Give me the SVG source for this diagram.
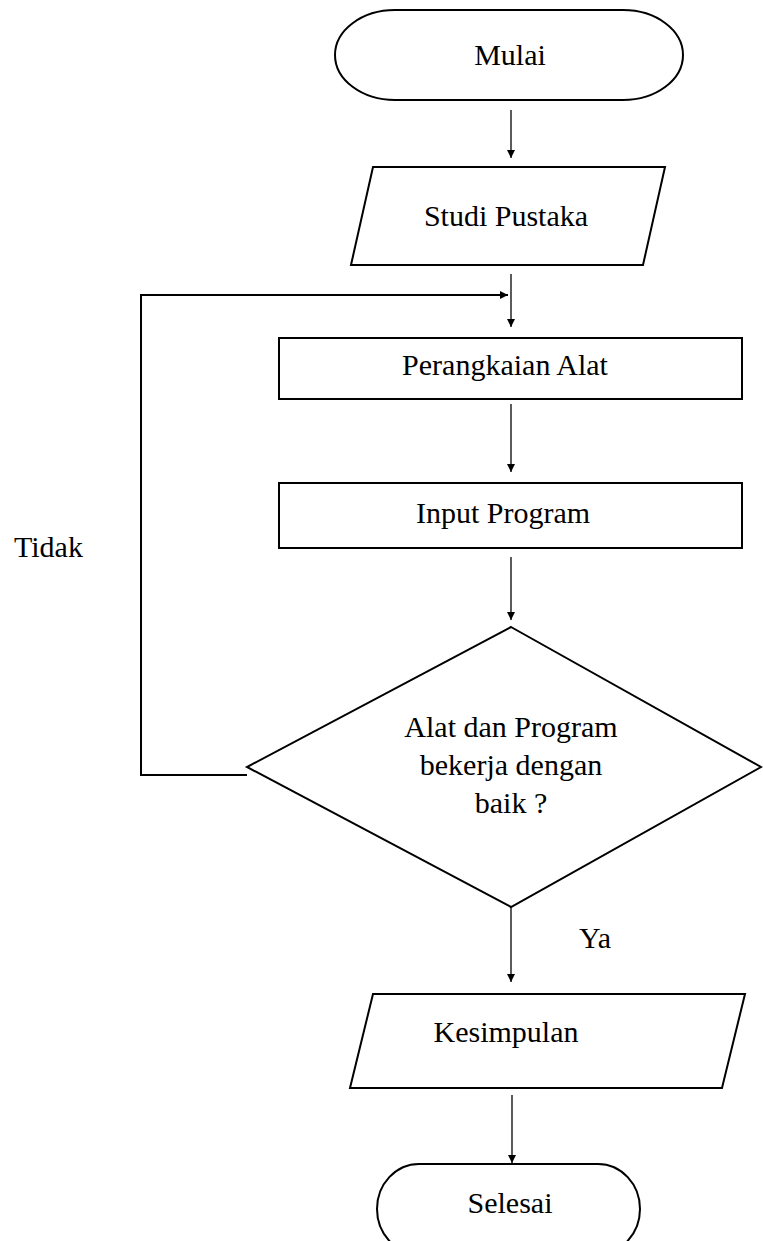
<svg xmlns="http://www.w3.org/2000/svg" width="763" height="1241" viewBox="0 0 763 1241">
<style>
.shape{fill:#fff;stroke:#000;stroke-width:2}
.conn{fill:none;stroke:#333;stroke-width:1.6}
.t{font-size:30px;fill:#000;text-anchor:middle}
.tl{font-size:30px;fill:#000}
</style>
<defs>
<marker id="ah" markerWidth="10" markerHeight="10" refX="8" refY="5" orient="auto" markerUnits="userSpaceOnUse">
<path d="M0,1 L8,5 L0,9 Z" fill="#000"/>
</marker>
</defs>
<rect width="763" height="1241" fill="#fff"/>
<g id="connectors">
<line class="conn" x1="511" y1="110" x2="511" y2="158" marker-end="url(#ah)"/>
<line class="conn" x1="511" y1="274" x2="511" y2="327" marker-end="url(#ah)"/>
<line class="conn" x1="511" y1="404" x2="511" y2="472" marker-end="url(#ah)"/>
<line class="conn" x1="511" y1="557" x2="511" y2="620" marker-end="url(#ah)"/>
<polyline points="247,775 141,775 141,295 508,295" fill="none" stroke="#000" stroke-width="2" marker-end="url(#ah)"/>
<line class="conn" x1="511" y1="907" x2="511" y2="982" marker-end="url(#ah)"/>
<line class="conn" x1="512" y1="1095" x2="512" y2="1163" marker-end="url(#ah)"/>
</g>
<g font-family="Liberation Serif, Times New Roman, DejaVu Serif, serif">
<g id="mulai">
<rect class="shape" x="335" y="10" width="348" height="90" rx="60" ry="45"/>
<text class="t" x="510" y="65">Mulai</text>
</g>
<g id="studi">
<polygon class="shape" points="373,167 665,167 643,265 351,265"/>
<text class="t" x="506" y="226">Studi Pustaka</text>
</g>
<g id="perangkaian">
<rect class="shape" x="279" y="338" width="463" height="61"/>
<text class="t" x="505" y="375">Perangkaian Alat</text>
</g>
<g id="input">
<rect class="shape" x="279" y="483" width="463" height="65"/>
<text class="t" x="503" y="523">Input Program</text>
</g>
<g id="decision">
<polygon class="shape" points="511,627 761,767 511,907 247,767"/>
<text class="t" x="511" y="737">Alat dan Program</text>
<text class="t" x="511" y="775">bekerja dengan</text>
<text class="t" x="511" y="813">baik ?</text>
</g>
<g id="kesimpulan">
<polygon class="shape" points="373,994 745,994 722,1088 350,1088"/>
<text class="t" x="506" y="1042">Kesimpulan</text>
</g>
<g id="selesai">
<rect class="shape" x="377" y="1164" width="263" height="90" rx="42" ry="45"/>
<text class="t" x="510" y="1213">Selesai</text>
</g>
<g id="labels">
<text class="tl" x="14" y="557">Tidak</text>
<text class="tl" x="579" y="948">Ya</text>
</g>
</g>
</svg>
